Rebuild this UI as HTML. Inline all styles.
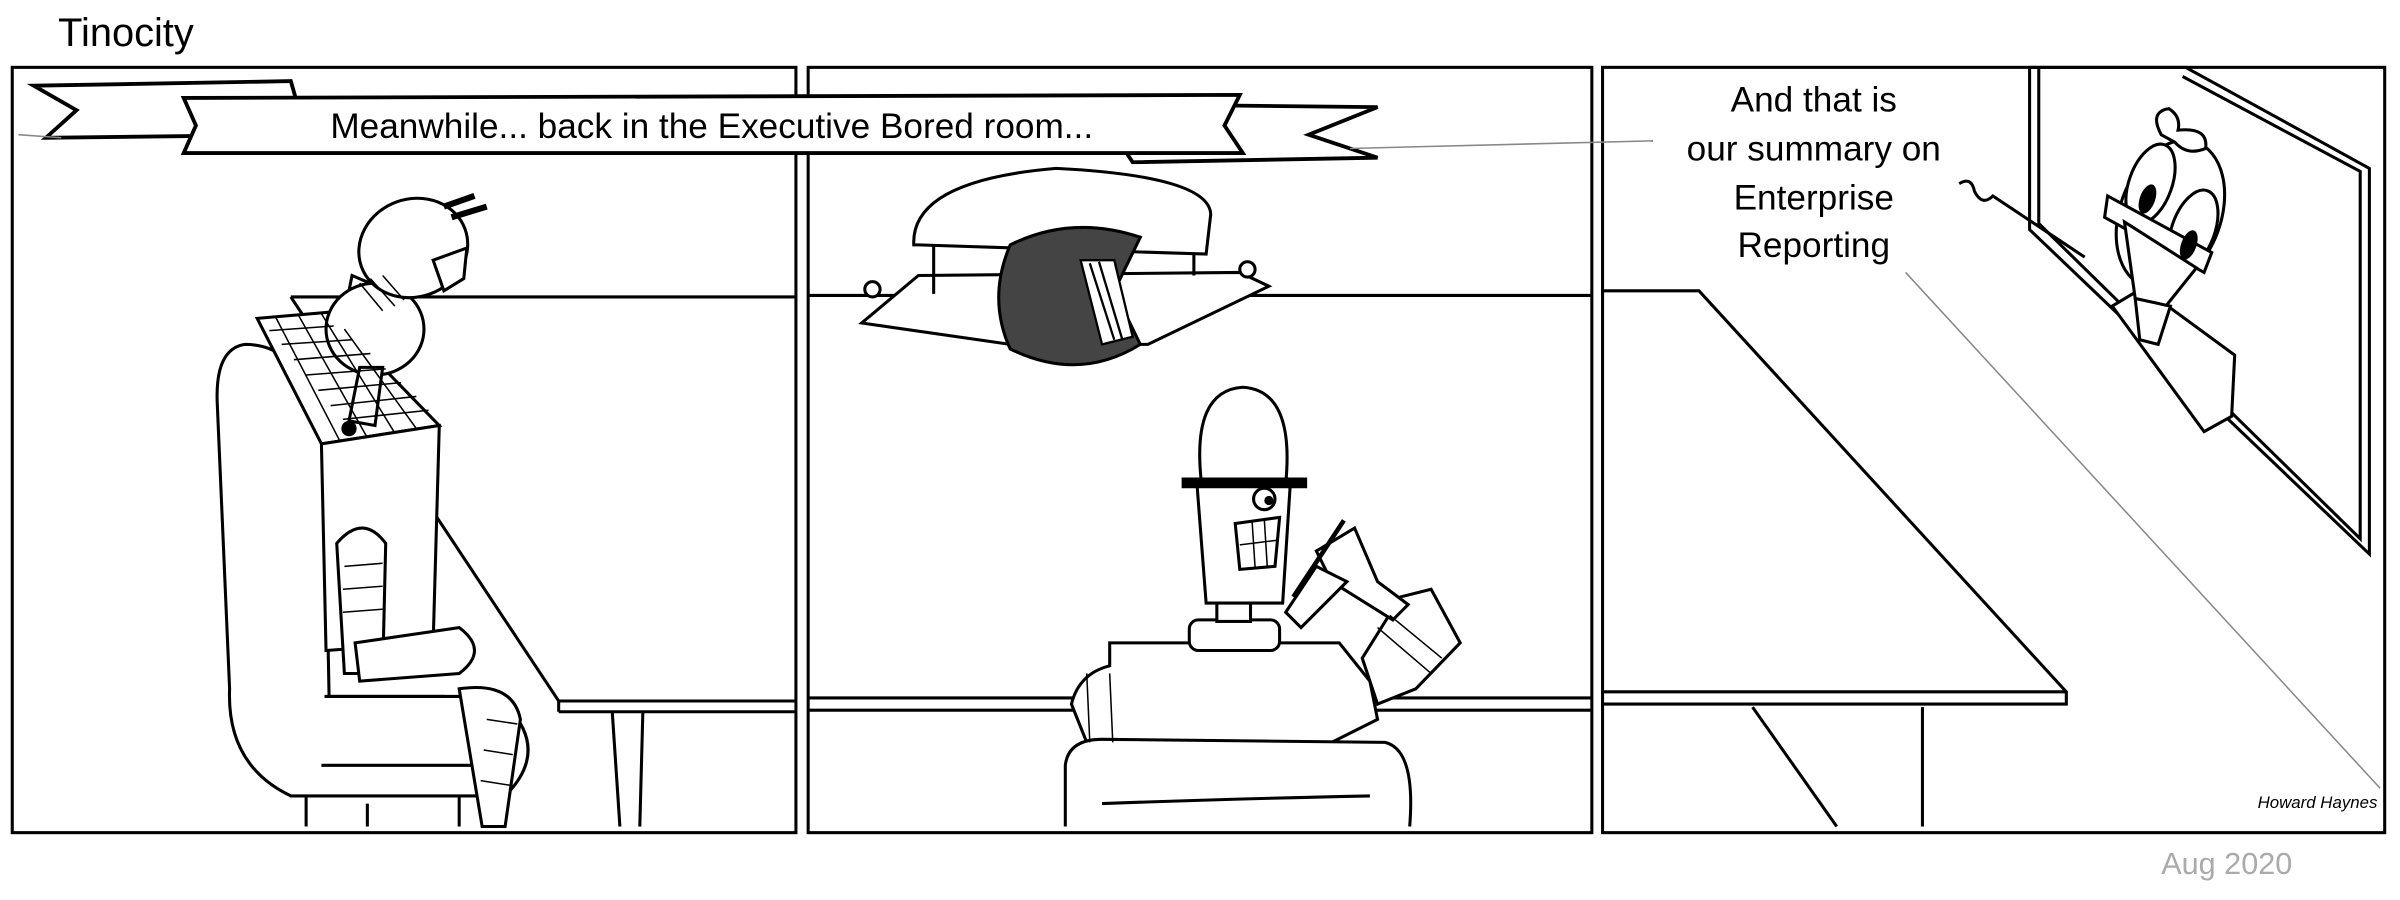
<!DOCTYPE html>
<html><head><meta charset="utf-8"><style>
html,body{margin:0;padding:0;background:#fff;width:2400px;height:900px;overflow:hidden}
svg{display:block}
text{font-family:"Liberation Sans",sans-serif}
</style></head><body>
<svg width="2400" height="900" viewBox="0 0 1568 588" preserveAspectRatio="none" xmlns="http://www.w3.org/2000/svg">
<rect width="1568" height="588" fill="#fff"/>
<text x="38" y="30" font-size="26" fill="#000">Tinocity</text>
<text x="1412" y="571" font-size="20" fill="#aaa">Aug 2020</text>
<g fill="none" stroke="#000" stroke-width="2">
<rect x="8" y="44" width="512" height="500"/>
<rect x="528" y="44" width="512" height="500"/>
<rect x="1047" y="44" width="511" height="500"/>
</g>
<!-- tables -->
<g fill="none" stroke="#000" stroke-width="2">
<path d="M190,194 L520,194 M190,194 L365,458 L520,458 M365,465 L520,465 M365,458 L365,465"/>
<path d="M528,193 L1040,193 M528,456 L1040,456 M528,464 L1040,464"/>
<path d="M1047,190 L1110,190 L1350,452 L1350,460 L1047,460 M1047,452 L1350,452"/>
<path d="M400,465 L405,540 M420,465 L418,540 M1145,462 L1200,540 M1256,462 L1256,540"/>
</g>
<!-- banner -->
<g stroke="#000" stroke-width="2.5" fill="#fff">
<polygon points="22,56 190,53 200,88 30,90 50,72"/>
<polygon points="715,68 900,70 855,88 900,103 740,106"/>
<polygon points="120,64 810,62 800,82 812,100 120,100 128,82"/>
</g>
<text x="465" y="90" font-size="23" text-anchor="middle">Meanwhile... back in the Executive Bored room...</text>
<line x1="12" y1="88" x2="40" y2="90" stroke="#888"/>
<line x1="882" y1="97" x2="1080" y2="92" stroke="#888"/>
<!-- speech panel 3 -->
<g font-size="23" text-anchor="middle">
<text x="1185" y="73">And that is</text>
<text x="1185" y="105">our summary on</text>
<text x="1185" y="137">Enterprise</text>
<text x="1185" y="168">Reporting</text>
</g>
<line x1="1245" y1="178" x2="1555" y2="515" stroke="#888"/>
<path d="M1280,120 q8,-5 10,5 q5,10 12,3 l60,40" fill="none" stroke="#000" stroke-width="2"/>
<!-- screen -->
<g fill="none" stroke="#000" stroke-width="2">
<polygon points="1326,44 1428,44 1548,110 1548,362 1326,150"/>
<polyline points="1332,44 1332,146 1542,352 1542,112 1426,50"/>
</g>
<g fill="#fff" stroke="#000" stroke-width="2">
<path d="M1380,200 L1400,188 L1460,232 L1458,272 L1440,282 Z"/>
<ellipse cx="1418" cy="140" rx="33" ry="50" transform="rotate(20 1418 140)"/>
<ellipse cx="1405" cy="120" rx="14" ry="27" transform="rotate(20 1405 120)"/>
<ellipse cx="1433" cy="150" rx="14" ry="27" transform="rotate(20 1433 150)"/>
<path d="M1377,128 L1445,165 L1440,178 L1375,142 Z"/>
<path d="M1388,145 L1435,175 L1415,200 L1395,195 Z"/>
<path d="M1395,195 L1418,200 L1410,225 L1398,222 Z"/>
<path d="M1412,88 q-8,-15 5,-17 q8,5 6,14 q20,-2 18,12 q-12,5 -20,-4z"/>
</g>
<ellipse cx="1403" cy="130" rx="5" ry="10" fill="#000" transform="rotate(20 1403 130)"/>
<ellipse cx="1430" cy="160" rx="5" ry="10" fill="#000" transform="rotate(20 1430 160)"/>
<!-- panel 1 robot & chair -->
<g fill="#fff" stroke="#000" stroke-width="2">
<path d="M160,225 Q140,228 142,265 L150,450 Q148,500 190,520 L330,520 Q360,490 330,460 L290,455 L215,455 L212,300 Q205,225 160,225 Z"/>
<path d="M212,455 L300,455 Q345,470 320,500 L210,500"/>
<path d="M168,208 L215,204 L287,278 L210,290 Z"/>
<path d="M210,290 L287,278 L283,420 L213,425 Z"/>
<path d="M220,355 Q237,335 252,355 L250,440 L225,440 Z"/>
<path d="M232,420 L300,410 Q320,425 300,440 L235,445 Z"/>
<path d="M300,450 Q335,445 340,470 L330,540 L315,540 Z"/>
<path d="M230,180 L225,205 Q250,235 265,195 Z"/>
<ellipse cx="245" cy="215" rx="32" ry="30"/>
<path d="M235,240 L228,275 L245,278 L250,240 Z"/>
<ellipse cx="270" cy="162" rx="36" ry="32" transform="rotate(-20 270 162)"/>
<path d="M283,170 L305,162 L303,182 L290,190 Z"/>
<path d="M290,135 L310,128 M295,142 L318,135" stroke-width="4"/>
</g>
<g stroke="#000" stroke-width="1" fill="none">
<path d="M176,216 L218,213 M184,225 L230,222 M192,235 L242,231 M200,245 L252,241 M208,255 L262,250 M216,265 L272,259 M224,274 L280,268"/>
<path d="M180,207 L222,288 M195,206 L240,286 M210,205 L258,283 M225,215 L272,280"/>
<path d="M235,185 L250,203 M242,182 L258,200 M250,180 L264,196"/>
<path d="M225,370 L250,368 M224,385 L250,383 M224,400 L250,398 M318,470 L338,473 M316,490 L335,493 M314,510 L333,513"/>
</g>
<circle cx="228" cy="280" r="5" fill="#000"/>
<g stroke="#000" stroke-width="2"><path d="M200,520 L200,540 M240,525 L240,540 M300,520 L300,540"/></g>
<!-- panel 2 chair & head -->
<g fill="#fff" stroke="#000" stroke-width="2">
<path d="M563,211 L600,180 L810,178 L829,187 L750,225 L660,225 Z"/>
<path d="M597,160 Q595,118 690,110 Q790,115 791,140 L788,166 L600,160 Z"/>
<path d="M610,160 L610,192 M780,166 L780,180"/>
<circle cx="570" cy="189" r="5"/><circle cx="815" cy="176" r="5"/>
</g>
<path d="M660,160 Q700,140 745,155 L728,190 L745,225 Q705,250 660,228 Q645,195 660,160 Z" fill="#444" stroke="#000" stroke-width="2"/>
<path d="M706,170 L728,170 L740,220 L720,225 Z" fill="#fff" stroke="#000" stroke-width="1.5"/>
<path d="M712,172 L728,222 M718,171 L733,221" stroke="#000" stroke-width="1.5"/>
<!-- panel 2 robot -->
<g fill="#fff" stroke="#000" stroke-width="2">
<path d="M700,460 Q705,440 725,435 L725,420 L875,420 L895,445 L900,470 L870,485 L710,485 Z"/>
<path d="M696,540 L696,500 Q698,483 720,483 L905,485 Q925,490 921,540"/>
<path d="M720,525 Q800,522 895,520"/>
<path d="M890,430 L915,390 L935,385 L954,420 L925,450 L900,460 Z"/>
<path d="M860,360 L885,345 L900,380 L920,395 L910,405 L870,380 Z"/>
<rect x="777" y="405" width="59" height="20" rx="6"/>
<rect x="795" y="390" width="22" height="16"/>
<path d="M782,316 L843,316 L838,394 L788,394 Z"/>
<path d="M785,316 Q778,255 812,253 Q846,255 840,316"/>
<path d="M773,318 L853,318 L853,313 L773,313 Z" fill="#000"/>
<path d="M807,342 L836,338 L833,370 L810,372 Z"/>
<path d="M840,400 L860,370 L880,380 L850,410 Z"/>
<circle cx="826" cy="326" r="7"/>
</g>
<circle cx="829" cy="327" r="3" fill="#000"/>
<g stroke="#000" stroke-width="1"><path d="M810,356 L834,353 M818,340 L820,371 M826,339 L828,371 M710,440 L712,485 M725,440 L727,485 M900,410 L935,440 M908,402 L942,430"/></g>
<line x1="845" y1="390" x2="878" y2="340" stroke="#000" stroke-width="3"/>
<!-- signature -->
<text x="1475" y="528" font-size="11" font-style="italic">Howard Haynes</text>
</svg>
</body></html>
